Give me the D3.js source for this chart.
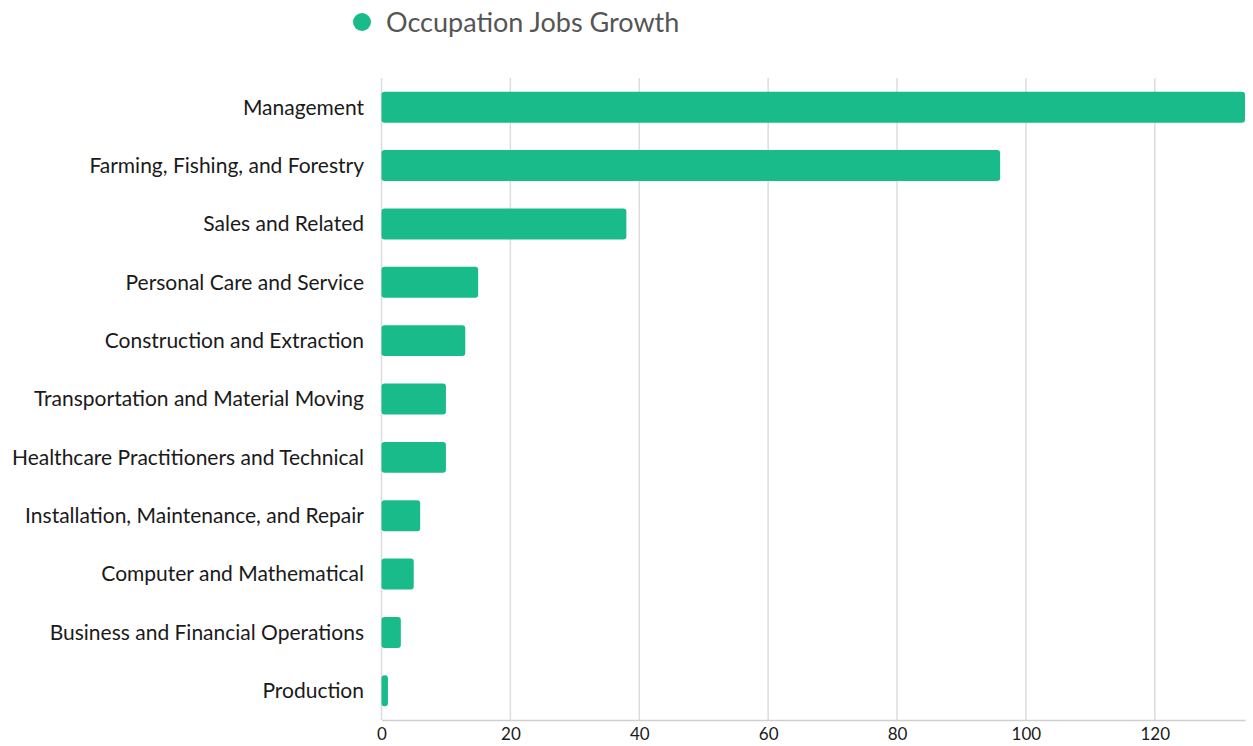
<!DOCTYPE html>
<html>
<head>
<meta charset="utf-8">
<script src="https://cdn.jsdelivr.net/npm/d3@7"></script>
<style>
  body { margin: 0; background: #fff; }
  svg { font-family: Lato, "Noto Sans", sans-serif; }
</style>
</head>
<body>
<svg id="chart" width="1253" height="746"></svg>
<script>
var categories = ["Management", "Farming, Fishing, and Forestry", "Sales and Related",
  "Personal Care and Service", "Construction and Extraction",
  "Transportation and Material Moving", "Healthcare Practitioners and Technical",
  "Installation, Maintenance, and Repair", "Computer and Mathematical",
  "Business and Financial Operations", "Production"];
var growth = [134, 96, 38, 15, 13, 10, 10, 6, 5, 3, 1];
var xTicks = [0, 20, 40, 60, 80, 100, 120];
var seriesName = "Occupation Jobs Growth";

var barColor = "#1abb8b";
var svg = d3.select("#chart");

// plot box
var plotLeft = 381.5, plotRight = 1245, plotTop = 78, plotBottom = 720;

var x = d3.scaleLinear().domain([0, d3.max(growth)]).range([plotLeft, plotRight]);
var y = d3.scaleBand().domain(categories).range([plotTop, plotBottom])
  .paddingInner(0.47).paddingOuter(0.235);

// gridlines
svg.append("g").selectAll("line")
  .data(xTicks)
  .enter().append("line")
  .attr("x1", d => x(d)).attr("x2", d => x(d))
  .attr("y1", plotTop).attr("y2", plotBottom)
  .attr("stroke", "#dcdcdc").attr("stroke-width", 1.5);

// bottom axis
var xAxis = svg.append("g")
  .attr("transform", "translate(0," + plotBottom + ")")
  .call(d3.axisBottom(x).tickValues(xTicks).tickSize(0).tickPadding(8));
xAxis.select(".domain").attr("stroke", "#cfcfcf").attr("stroke-width", 1.5);
xAxis.selectAll("text").attr("font-size", "17px").attr("fill", "#1a1a1a")
  .attr("font-family", "Lato, sans-serif");

// bars
svg.append("g").selectAll("rect")
  .data(growth)
  .enter().append("rect")
  .attr("x", x(0))
  .attr("y", (d, i) => y(categories[i]))
  .attr("width", d => x(d) - x(0))
  .attr("height", y.bandwidth())
  .attr("rx", 3).attr("ry", 3)
  .attr("fill", barColor);

// category labels
svg.append("g").selectAll("text")
  .data(categories)
  .enter().append("text")
  .attr("x", 364)
  .attr("y", d => y(d) + y.bandwidth() / 2)
  .attr("dy", "0.35em")
  .attr("text-anchor", "end")
  .attr("font-size", "21px")
  .attr("fill", "#1a1a1a")
  .text(d => d);

// legend
svg.append("circle").attr("cx", 362).attr("cy", 22).attr("r", 9).attr("fill", barColor);
svg.append("text")
  .attr("x", 386).attr("y", 23).attr("dy", "0.35em")
  .attr("font-size", "27px").attr("fill", "#555")
  .text(seriesName);
</script>
</body>
</html>
